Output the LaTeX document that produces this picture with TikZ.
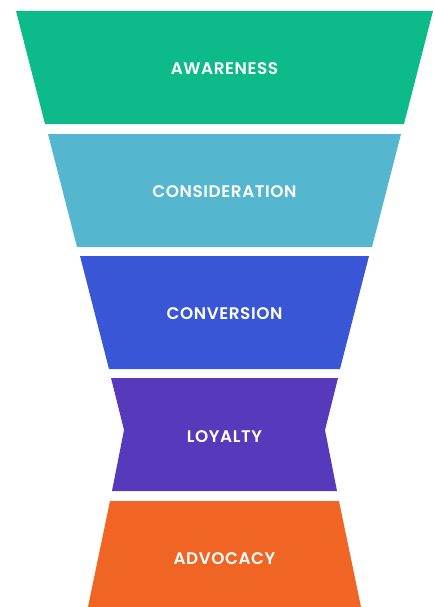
\documentclass[tikz,border=0pt]{standalone}
\usepackage{fontspec}
\setmainfont{Poppins}[BoldFont = {Poppins SemiBold}]
\definecolor{awarecol}{RGB}{13,186,138}
\definecolor{considcol}{RGB}{85,182,208}
\definecolor{convcol}{RGB}{56,86,213}
\definecolor{loyalcol}{RGB}{87,57,187}
\definecolor{advocol}{RGB}{240,100,36}
\tikzset{stagetext/.style = {text = white, font = \bfseries\fontsize{16.8}{18}\selectfont\addfontfeatures{LetterSpace = 3.5}}}
\begin{document}
\begin{tikzpicture}[x = 1pt, y = -1pt]
		\useasboundingbox (0,0) rectangle (434,607);
		% funnel stages, top to bottom
		\fill [awarecol] (16,11) -- (433,11) -- (404,124) -- (45,124) -- cycle;
		\node (aware) at (224.5,69) [stagetext] {AWARENESS};

		\fill [considcol] (48,134) -- (401,134) -- (372,247) -- (77,247) -- cycle;
		\node (consid) at (224.5,192) [stagetext] {CONSIDERATION};

		\fill [convcol] (80,256) -- (369,256) -- (340,369) -- (109,369) -- cycle;
		\node (conv) at (224.5,314) [stagetext] {CONVERSION};

		\fill [loyalcol] (111,378) -- (338,378) -- (325,430) -- (337,491) -- (112,491) -- (124,430) -- cycle;
		\node (loyal) at (224.5,437) [stagetext] {LOYALTY};

		\fill [advocol] (110,501) -- (339,501) -- (361,607) -- (88,607) -- cycle;
		\node (advo) at (224.5,559) [stagetext] {ADVOCACY};
\end{tikzpicture}
\end{document}
